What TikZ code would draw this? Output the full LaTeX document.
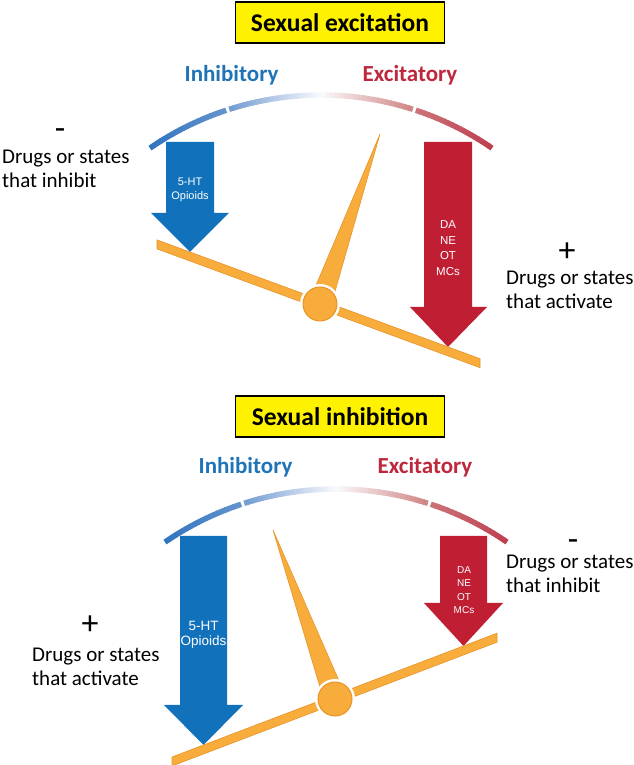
\documentclass[tikz,border=0pt]{standalone}
\usepackage{fontspec}
\setmainfont{Carlito}
\newfontfamily\armfont{Liberation Sans}
\usetikzlibrary{calc}

\definecolor{inhblue}{RGB}{31,115,183}
\definecolor{excred}{RGB}{190,40,60}
\definecolor{arrowblue}{RGB}{17,114,187}
\definecolor{arrowred}{RGB}{192,30,50}
\definecolor{leverorange}{RGB}{247,172,60}
\definecolor{leveredge}{RGB}{232,148,40}
\definecolor{dialA}{RGB}{48,116,190}
\definecolor{dialB}{RGB}{100,148,206}
\definecolor{dialC}{RGB}{112,155,210}
\definecolor{dialW}{RGB}{250,250,252}
\definecolor{dialD}{RGB}{208,130,130}
\definecolor{dialE}{RGB}{204,115,120}
\definecolor{dialF}{RGB}{190,62,78}

\tikzset{
  titlebox/.style={draw=black, line width=1.4pt, fill=yellow, minimum width=209pt,
    minimum height=41pt, inner sep=0pt, font=\bfseries\fontsize{25.5}{28}\selectfont},
  scalelabel/.style={anchor=base, inner sep=0pt, font=\bfseries\fontsize{23}{26}\selectfont},
  sidetext/.style={anchor=base west, align=left, inner sep=0pt, font=\fontsize{21}{24}\selectfont},
  sign/.style={inner sep=0pt, font=\fontsize{34}{34}\selectfont},
  armtext/.style={align=center, inner sep=0pt, text=white},
  lever/.style={fill=leverorange, draw=leveredge, line width=0.6pt},
}

\begin{document}
\begin{tikzpicture}[x=1pt, y=1pt]
  \useasboundingbox (0,0) rectangle (633,765);

  % the two dials, blue fading to white fading to red
  \foreach \cx/\cy in {321/368, 336/-26} {
    \foreach \sa/\ea/\ca/\cb in {124.5/108.3/dialA/dialB, 107.7/90/dialC/dialW,
                                 90/72.3/dialW/dialD, 71.7/55.5/dialE/dialF} {
      \foreach \k in {0,...,19} {
        \pgfmathsetmacro\pa{\sa+(\ea-\sa)*\k/20}
        \pgfmathsetmacro\pb{\sa+(\ea-\sa)*min(\k+1.2,20)/20}
        \pgfmathtruncatemacro\pc{5*\k+2}
        \draw[line width=5.5pt, color=\cb!\pc!\ca] (\cx,\cy) ++(\pa:302)
          arc[start angle=\pa, end angle=\pb, radius=302];
      }
    }
  }

  % upper gauge: sexual excitation
  \node[titlebox] (exctitle) at (340,742.5) {Sexual excitation};
  \node[scalelabel, text=inhblue] (inh1) at (231.5,683) {Inhibitory};
  \node[scalelabel, text=excred] (exc1) at (410,683) {Excitatory};

  \fill[arrowblue] (166,623) -- (214,623) -- (214,552) -- (229,552) -- (190,513)
    -- (151,552) -- (166,552) -- cycle;
  \node[armtext, font=\armfont\fontsize{11}{14}\selectfont] (ser1) at (190,575) {5-HT\\Opioids};
  \fill[arrowred] (424,623) -- (472,623) -- (472,458) -- (487,458) -- (448,418)
    -- (410,458) -- (424,458) -- cycle;
  \node[armtext, font=\armfont\fontsize{11.5}{15.5}\selectfont] (cat1) at (448,517) {DA\\NE\\OT\\MCs};

  \fill[lever] (157,516.1) -- (480,397.3) -- (480,406.3) -- (157,525.1) -- cycle;
  \coordinate (piv1) at (320,461);
  \coordinate (tip1) at (380,631);
  \fill[lever] ($(piv1)!11pt!90:(tip1)$) -- (tip1) -- ($(piv1)!11pt!-90:(tip1)$) -- cycle;
  \fill[white] (piv1) circle (20);
  \draw[lever, line width=1pt] (piv1) circle (17);

  \node[sign, anchor=base] (minus1) at (60,625) {-};
  \node[sidetext] (inhdrug1) at (2,577) {Drugs or states\\that inhibit};
  \node[sign] (plus1) at (567,513) {+};
  \node[sidetext] (actdrug1) at (506,456) {Drugs or states\\that activate};

  % lower gauge: sexual inhibition
  \node[titlebox] (inhtitle) at (340,348.5) {Sexual inhibition};
  \node[scalelabel, text=inhblue] (inh2) at (245.5,291) {Inhibitory};
  \node[scalelabel, text=excred] (exc2) at (425,291) {Excitatory};

  \fill[arrowblue] (180,229) -- (227,229) -- (227,60) -- (243,60) -- (203.5,20)
    -- (164,60) -- (180,60) -- cycle;
  \node[armtext, font=\armfont\fontsize{13.5}{15.5}\selectfont] (ser2) at (203.5,130) {5-HT\\Opioids};
  \fill[arrowred] (440,229) -- (487,229) -- (487,162) -- (503,162) -- (463.5,119)
    -- (424,162) -- (440,162) -- cycle;
  \node[armtext, font=\armfont\fontsize{10}{13.5}\selectfont] (cat2) at (464,175) {DA\\NE\\OT\\MCs};

  \fill[lever] (172,-1) -- (497,122.8) -- (497,131.8) -- (172,8) -- cycle;
  \coordinate (piv2) at (335,66);
  \coordinate (tip2) at (273,235);
  \fill[lever] ($(piv2)!11pt!90:(tip2)$) -- (tip2) -- ($(piv2)!11pt!-90:(tip2)$) -- cycle;
  \fill[white] (piv2) circle (20);
  \draw[lever, line width=1pt] (piv2) circle (17);

  \node[sign] (plus2) at (90,140) {+};
  \node[sidetext] (actdrug2) at (32,79) {Drugs or states\\that activate};
  \node[sign, anchor=base] (minus2) at (573,214) {-};
  \node[sidetext] (inhdrug2) at (506,172) {Drugs or states\\that inhibit};
\end{tikzpicture}
\end{document}
